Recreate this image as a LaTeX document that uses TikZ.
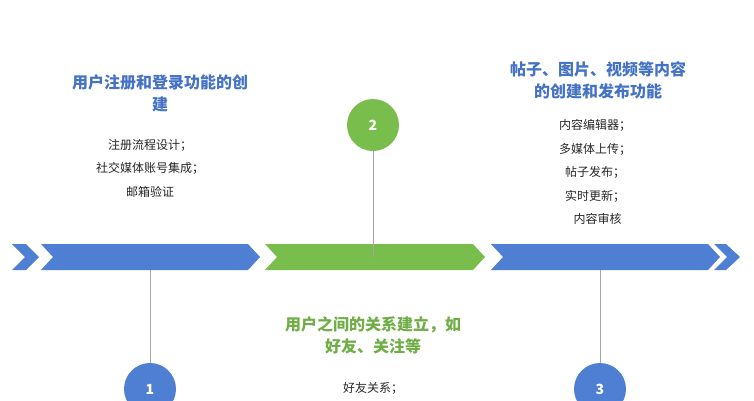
\documentclass[tikz,border=0pt]{standalone}
\usepackage{fontspec}
\setmainfont{Noto Sans CJK SC}
\begin{document}
\begin{tikzpicture}[x=1pt,y=-1pt,
  every node/.style={inner sep=0pt},
  bluec/.style={fill=cblue},
  greenc/.style={fill=cgreen},
  ttl/.style={font=\fontsize{16}{22}\selectfont\bfseries, align=center},
  itm/.style={font=\fontsize{12}{23.5}\selectfont, align=center, text=black!85},
  num/.style={circle, minimum size=52pt, font=\fontsize{14}{14}\selectfont\bfseries, text=white},
  stem/.style={draw=gray!70, line width=0.7pt}]
\definecolor{cblue}{HTML}{4F7FD2}
\definecolor{cgreen}{HTML}{79BE4C}
\definecolor{tblue}{HTML}{4472C4}
\definecolor{tgreen}{HTML}{70AD47}
\useasboundingbox (0,0) rectangle (754,400);
% band
\fill[cblue] (12,244) -- (26,244) -- (39,257) -- (26,270) -- (12,270) -- (25,257) -- cycle;
\fill[cblue] (41,244) -- (248,244) -- (260,257) -- (248,270) -- (41,270) -- (53,257) -- cycle;
\fill[cgreen] (265,244) -- (473,244) -- (485,257) -- (473,270) -- (265,270) -- (277,257) -- cycle;
\fill[cblue] (491,244) -- (708,244) -- (720,257) -- (708,270) -- (491,270) -- (503,257) -- cycle;
\fill[cblue] (714,244) -- (726,244) -- (740,257) -- (726,270) -- (714,270) -- (727,257) -- cycle;
\coordinate (b1) at (150,270);
\coordinate (b2) at (373,257);
\coordinate (b3) at (600,270);
% circles
\node[num, bluec] (c1) at (150,389) {1};
\node[num, greenc] (c2) at (373,125) {2};
\node[num, bluec] (c3) at (600,389) {3};
\draw[stem] (b1) -- (c1.north);
\draw[stem] (c2.south) -- (b2);
\draw[stem] (b3) -- (c3.north);
% texts
\node[ttl, text=tblue] (t1) at (160,93) {用户注册和登录功能的创\\建};
\node[itm] (i1) at (150,168) {注册流程设计；\\社交媒体账号集成；\\邮箱验证};
\node[ttl, text=tblue] (t3) at (598,80) {帖子、图片、视频等内容\\的创建和发布功能};
\node[itm] (i3) at (595,172) {内容编辑器；\\多媒体上传；\\帖子发布；\\实时更新；\\\ \ 内容审核};
\node[ttl, text=tgreen] (t2) at (373,335) {用户之间的关系建立，如\\好友、关注等};
\node[itm] (i2) at (373,388) {好友关系；};
\end{tikzpicture}
\end{document}
